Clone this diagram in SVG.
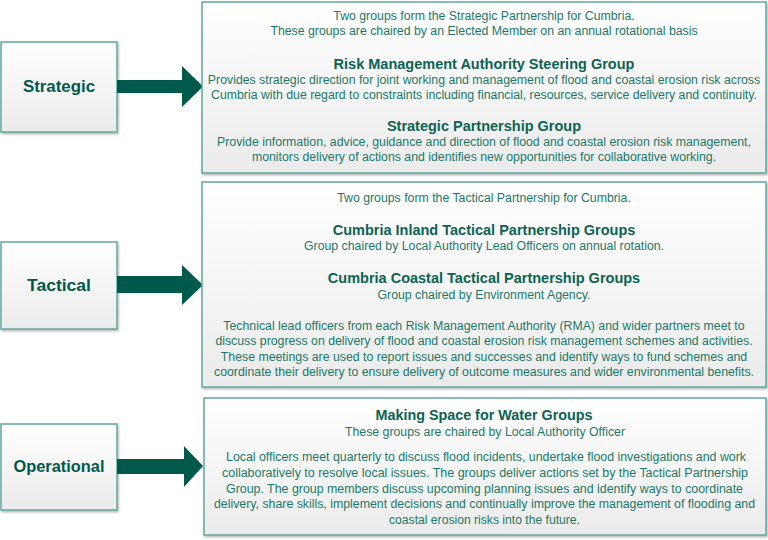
<svg xmlns="http://www.w3.org/2000/svg" width="768" height="540" viewBox="0 0 768 540">
<defs>
<linearGradient id="g" x1="0" y1="0" x2="0" y2="1">
<stop offset="0" stop-color="#ffffff"/>
<stop offset="1" stop-color="#ebebeb"/>
</linearGradient>
<filter id="sh" x="-5%" y="-5%" width="110%" height="115%">
<feDropShadow dx="1" dy="1.5" stdDeviation="1" flood-color="#000" flood-opacity="0.3"/>
</filter>
</defs>
<style>
.box{fill:url(#g);stroke:#5fa99c;stroke-width:1.5;filter:url(#sh)}
.arr{fill:#005a4b}
.lbl{font-family:"Liberation Sans",Arial,sans-serif;font-weight:bold;font-size:17px;fill:#005a4b;text-anchor:middle}
.h{font-family:"Liberation Sans",Arial,sans-serif;font-weight:bold;font-size:14.5px;fill:#0b6350;text-anchor:middle}
.t{font-family:"Liberation Sans",Arial,sans-serif;font-size:12.3px;fill:#1a7a68;text-anchor:middle}
.n{font-family:"Liberation Sans",Arial,sans-serif;font-size:12.3px;fill:#1a7a68;text-anchor:middle}
</style>
<g id="strategic">
<rect class="box" x="1" y="42" width="116" height="90"/>
<text class="lbl" x="59" y="92" textLength="72" lengthAdjust="spacingAndGlyphs">Strategic</text>
</g>
<g id="tactical">
<rect class="box" x="1" y="242" width="116" height="87"/>
<text class="lbl" x="59" y="291" textLength="64" lengthAdjust="spacingAndGlyphs">Tactical</text>
</g>
<g id="operational">
<rect class="box" x="1" y="424" width="116" height="86"/>
<text class="lbl" x="59" y="472" textLength="91" lengthAdjust="spacingAndGlyphs">Operational</text>
</g>
<g id="connectors">
<polygon class="arr" points="117,80 182,80 182,66 203,86.5 182,107 182,93 117,93"/>
<polygon class="arr" points="117,276 182,276 182,265 203,285 182,305 182,293 117,293"/>
<polygon class="arr" points="117,459 184,459 184,446 203,466 184,487 184,474 117,474"/>
</g>
<g id="strategic-detail">
<rect class="box" x="202" y="2" width="564" height="171"/>
<text class="t" x="484" y="20">Two groups form the Strategic Partnership for Cumbria.</text>
<text class="t" x="484" y="35">These groups are chaired by an Elected Member on an annual rotational basis</text>
<text class="h" x="484" y="69">Risk Management Authority Steering Group</text>
<text class="t" x="484" y="84">Provides strategic direction for joint working and management of flood and coastal erosion risk across</text>
<text class="t" x="484" y="99">Cumbria with due regard to constraints including financial, resources, service delivery and continuity.</text>
<text class="h" x="484" y="131">Strategic Partnership Group</text>
<text class="t" x="484" y="146">Provide information, advice, guidance and direction of flood and coastal erosion risk management,</text>
<text class="t" x="484" y="161">monitors delivery of actions and identifies new opportunities for collaborative working.</text>
</g>
<g id="tactical-detail">
<rect class="box" x="202" y="182" width="564" height="205"/>
<text class="t" x="484" y="202">Two groups form the Tactical Partnership for Cumbria.</text>
<text class="h" x="484" y="235">Cumbria Inland Tactical Partnership Groups</text>
<text class="t" x="484" y="250">Group chaired by Local Authority Lead Officers on annual rotation.</text>
<text class="h" x="484" y="283">Cumbria Coastal Tactical Partnership Groups</text>
<text class="t" x="484" y="299">Group chaired by Environment Agency.</text>
<text class="t" x="484" y="330">Technical lead officers from each Risk Management Authority (RMA) and wider partners meet to</text>
<text class="t" x="484" y="345">discuss progress on delivery of flood and coastal erosion risk management schemes and activities.</text>
<text class="t" x="484" y="361">These meetings are used to report issues and successes and identify ways to fund schemes and</text>
<text class="t" x="484" y="376">coordinate their delivery to ensure delivery of outcome measures and wider environmental benefits.</text>
</g>
<g id="operational-detail">
<rect class="box" x="204" y="398" width="562" height="137"/>
<text class="h" x="484" y="420" textLength="217" lengthAdjust="spacingAndGlyphs">Making Space for Water Groups</text>
<text class="n" x="485" y="436" textLength="280" lengthAdjust="spacingAndGlyphs">These groups are chaired by Local Authority Officer</text>
<text class="n" x="486" y="461" textLength="520" lengthAdjust="spacingAndGlyphs">Local officers meet quarterly to discuss flood incidents, undertake flood investigations and work</text>
<text class="n" x="485" y="477" textLength="526" lengthAdjust="spacingAndGlyphs">collaboratively to resolve local issues.  The groups deliver actions set by the Tactical Partnership</text>
<text class="n" x="484.5" y="493" textLength="517" lengthAdjust="spacingAndGlyphs">Group.  The group members discuss upcoming planning issues and identify ways to coordinate</text>
<text class="n" x="484.5" y="508" textLength="541" lengthAdjust="spacingAndGlyphs">delivery, share skills, implement decisions and continually improve the management of flooding and</text>
<text class="n" x="484.5" y="524" textLength="191" lengthAdjust="spacingAndGlyphs">coastal erosion risks into the future.</text>
</g>
</svg>
